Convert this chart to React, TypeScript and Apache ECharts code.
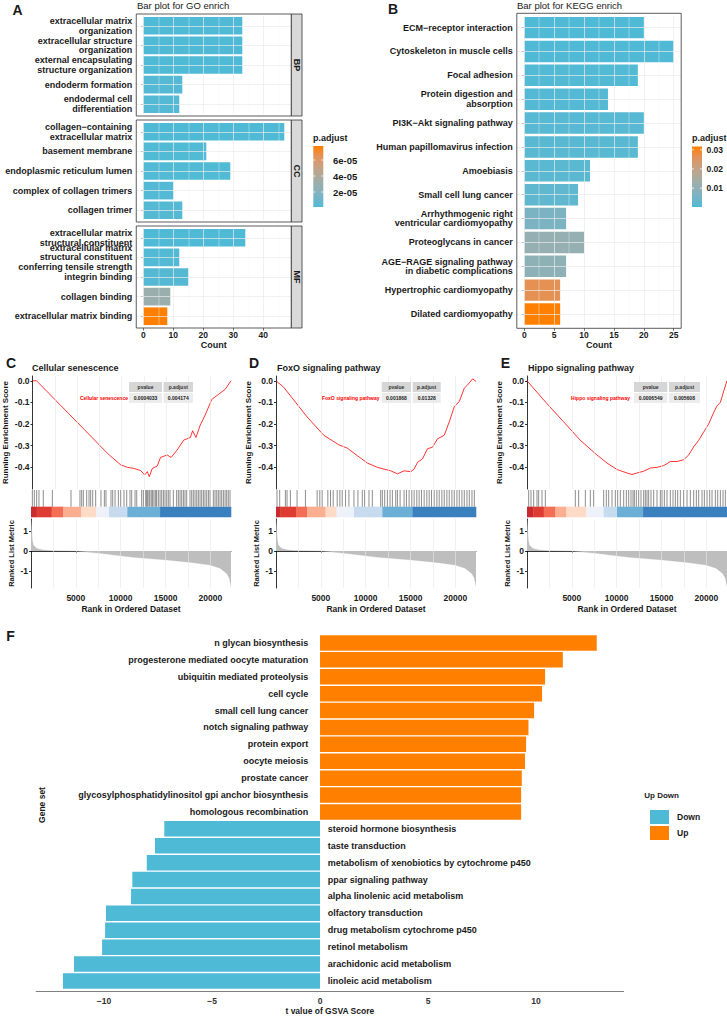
import { useEffect, useRef } from "react";
import * as echarts from "echarts";

const FONT = "'Liberation Sans', Arial, Helvetica, sans-serif";
const TXT = "#1A1A1A";
const PADJ_COLORS = ["#4FBAD6", "#78B4C6", "#93B0B4", "#ADAA9C", "#C9A080", "#E4925A", "#FF7F00"];

// A: GO enrichment, one facet per ontology
const goBPTerms = [
  "extracellular matrix\norganization",
  "extracellular structure\norganization",
  "external encapsulating\nstructure organization",
  "endoderm formation",
  "endodermal cell\ndifferentiation",
];
const goBPCount = [33, 33, 33, 13, 12];
const goBPPadj = [1.25e-6, 1.3e-6, 1.3e-6, 2.4e-6, 2.8e-6];
const goCCTerms = [
  "collagen\u2212containing\nextracellular matrix",
  "basement membrane",
  "endoplasmic reticulum lumen",
  "complex of collagen trimers",
  "collagen trimer",
];
const goCCCount = [47, 21, 29, 10, 13];
const goCCPadj = [1.25e-6, 1.8e-6, 2.0e-6, 2.6e-6, 3.0e-6];
const goMFTerms = [
  "extracellular matrix\nstructural constituent",
  "extracellular matrix\nstructural constituent\nconferring tensile strength",
  "integrin binding",
  "collagen binding",
  "extracellular matrix binding",
];
const goMFCount = [34, 12, 15, 9, 8];
const goMFPadj = [1.25e-6, 2.2e-6, 3.2e-6, 3.0e-5, 7.75e-5];
const goFacetNames = ["BP", "CC", "MF"];
const goCountBreaks = [0, 10, 20, 30, 40];
const goCountMinor = [5, 15, 25, 35, 45];
const goPadjBreaks = [2e-5, 4e-5, 6e-5];
const goPadjLabels = ["2e-05", "4e-05", "6e-05"];

// B: KEGG enrichment
const keggTerms = [
  "ECM\u2212receptor interaction",
  "Cytoskeleton in muscle cells",
  "Focal adhesion",
  "Protein digestion and\nabsorption",
  "PI3K\u2212Akt signaling pathway",
  "Human papillomavirus infection",
  "Amoebiasis",
  "Small cell lung cancer",
  "Arrhythmogenic right\nventricular cardiomyopathy",
  "Proteoglycans in cancer",
  "AGE\u2212RAGE signaling pathway\nin diabetic complications",
  "Hypertrophic cardiomyopathy",
  "Dilated cardiomyopathy",
];
const keggCount = [20, 25, 19, 14, 20, 19, 11, 9, 7, 10, 7, 6, 6];
const keggPadj = [0.0002, 0.0003, 0.0006, 0.0008, 0.0012, 0.0015, 0.0018, 0.0022, 0.0062, 0.0112, 0.0098, 0.0268, 0.0317];
const keggCountBreaks = [0, 5, 10, 15, 20, 25];
const keggCountMinor = [2.5, 7.5, 12.5, 17.5, 22.5];
const keggPadjBreaks = [0.01, 0.02, 0.03];
const keggPadjLabels = ["0.01", "0.02", "0.03"];

// C, D, E: GSEA plots
const gseaTitles = ["Cellular senescence", "FoxO signaling pathway", "Hippo signaling pathway"];
const gseaPvalues = ["0.0004033", "0.001868", "0.0006549"];
const gseaPadjust = ["0.004174", "0.01328", "0.005608"];

const esCellular: [number, number][] = [
  [0, 0], [446, 0], [2119, -0.07], [3977, -0.148], [5836, -0.226], [7322, -0.289], [8623, -0.343],
  [9924, -0.389], [10668, -0.4], [11411, -0.405], [12155, -0.415], [12601, -0.435], [12898, -0.42],
  [13121, -0.443], [13455, -0.405], [14013, -0.394], [14385, -0.354], [15128, -0.343], [15574, -0.354],
  [16243, -0.32], [16987, -0.274], [17730, -0.262], [17990, -0.231], [18362, -0.262], [18845, -0.205],
  [19403, -0.158], [20146, -0.086], [20889, -0.063], [21633, -0.04], [22300, 0],
];
const esFoxo: [number, number][] = [
  [0, 0], [858, -0.03], [3468, -0.167], [5333, -0.252], [7010, -0.296], [7943, -0.311], [9062, -0.346],
  [10181, -0.38], [11300, -0.4], [12045, -0.408], [12790, -0.416], [13536, -0.43], [14282, -0.416],
  [15028, -0.42], [15401, -0.408], [15774, -0.377], [16333, -0.361], [16892, -0.314], [17452, -0.307],
  [18011, -0.268], [18757, -0.252], [19316, -0.19], [19876, -0.12], [20435, -0.096], [20994, -0.034],
  [21367, -0.019], [21926, 0.009], [22300, -0.003],
];
const esHippo: [number, number][] = [
  [0, 0], [2230, -0.106], [4089, -0.19], [5947, -0.275], [7806, -0.343], [8921, -0.38], [10036, -0.41],
  [11151, -0.426], [11709, -0.433], [12266, -0.426], [13010, -0.418], [13753, -0.403], [14496, -0.4],
  [15240, -0.392], [15983, -0.373], [16727, -0.373], [17470, -0.365], [18027, -0.343], [18585, -0.305],
  [19143, -0.275], [19700, -0.237], [20258, -0.2], [20816, -0.146], [21188, -0.116], [21560, -0.1],
  [21932, -0.048], [22300, 0],
];

const hitsCellular = [
  150, 370, 630, 890, 1370, 2380, 4460, 5460, 5650, 5835, 6210, 6470, 6650, 6880, 7210, 7800, 8180, 8360,
  8920, 9110, 9370, 9740, 10000, 10370, 10670, 11040, 11230, 11600, 11790, 12340, 12530, 12790, 12900,
  13010, 13160, 13270, 13460, 13570, 13720, 13900, 14010, 14200, 14390, 14570, 14760, 14940, 15130, 15310,
  15500, 15870, 16240, 16430, 16620, 16800, 16990, 17170, 17360, 17730, 17920, 18100, 18290, 18480, 18660,
  18850, 19030, 19220, 19400, 19590, 19780, 19960, 20330, 20520, 20710, 20890, 21080, 21260, 21450, 21640,
  21820, 22000, 22190,
];
const hitsFoxo = [
  112, 410, 1044, 1231, 1603, 2349, 3282, 4587, 4885, 5146, 5780, 6078, 6377, 6824, 7123, 7384, 7757, 8130,
  8689, 9136, 9621, 9882, 10367, 10740, 11672, 11858, 12119, 12418, 12716, 12977, 13350, 13536, 13835,
  14282, 14543, 14841, 15140, 15401, 15699, 15960, 16221, 16519, 16818, 17079, 17340, 17638, 17936, 18197,
  18496, 18757, 19055, 19316, 19615, 19876, 20174, 20435, 20733, 20994, 21293, 21554, 21852, 22113,
];
const hitsHippo = [
  186, 446, 743, 1115, 1301, 1673, 2044, 5390, 5761, 6505, 7062, 7434, 8549, 8846, 9107, 9478, 9850, 10110,
  10408, 10779, 11077, 11337, 11597, 11820, 11969, 12192, 12452, 12712, 13010, 13195, 13381, 13567, 13827,
  14125, 14496, 14868, 15054, 15314, 15611, 15983, 16280, 16541, 16801, 17098, 17470, 17842, 18213, 18585,
  18882, 19143, 19514, 19775, 20072, 20370, 20630, 21002, 21262, 21560, 21857, 22117,
];

const bandColors = ["#C92A2E", "#DE3B33", "#F46D55", "#FCAE91", "#FDDBC7", "#EEF0FA", "#C6DBEF", "#6BAED6", "#3A80BE"];
const bandCellular = [0, 630, 2300, 3600, 5580, 7250, 8700, 10740, 14390, 22300];
const bandFoxo = [0, 500, 2275, 3470, 5520, 6750, 8690, 11860, 15210, 22300];
const bandHippo = [0, 700, 1860, 3160, 4390, 6620, 8550, 10040, 12940, 22300];

const rankedMetric: [number, number][] = [
  [0, 1.55], [150, 0.55], [260, 0.3], [630, 0.13], [1370, 0.05], [2490, 0.02], [5090, 0], [7690, -0.11],
  [11400, -0.31], [15130, -0.44], [18100, -0.57], [19960, -0.69], [21080, -0.85], [21820, -1.1],
  [22120, -1.34], [22300, -1.75],
];
const rankBreaks = [5000, 10000, 15000, 20000];
const rankGridValues = [2500, 5000, 7500, 10000, 12500, 15000, 17500, 20000];
const esBreaks = [-0.4, -0.3, -0.2, -0.1, 0];
const metricBreaks = [-1, 0, 1];

// F: GSVA t values
const gsvaTerms = [
  "n glycan biosynthesis",
  "progesterone mediated oocyte maturation",
  "ubiquitin mediated proteolysis",
  "cell cycle",
  "small cell lung cancer",
  "notch signaling pathway",
  "protein export",
  "oocyte meiosis",
  "prostate cancer",
  "glycosylphosphatidylinositol gpi anchor biosynthesis",
  "homologous recombination",
  "steroid hormone biosynthesis",
  "taste transduction",
  "metabolism of xenobiotics by cytochrome p450",
  "ppar signaling pathway",
  "alpha linolenic acid metabolism",
  "olfactory transduction",
  "drug metabolism cytochrome p450",
  "retinol metabolism",
  "arachidonic acid metabolism",
  "linoleic acid metabolism",
];
const gsvaT = [12.81, 11.24, 10.42, 10.28, 9.91, 9.65, 9.54, 9.49, 9.34, 9.31, 9.31, -7.21, -7.64, -8.02, -8.69, -8.75, -9.91, -9.95, -10.09, -11.39, -11.9];
const gsvaBreaks = [-10, -5, 0, 5, 10];

function buildOption() {
  const grid: any[] = [];
  const xAxis: any[] = [];
  const yAxis: any[] = [];
  const series: any[] = [];
  const graphic: any[] = [];
  const visualMap: any[] = [];

  const add = (g: any, x: any, y: any) => {
    const i = grid.length;
    grid.push(g);
    xAxis.push({ gridIndex: i, ...x });
    yAxis.push({ gridIndex: i, ...y });
    return i;
  };
  const text = (x: number, y: number, s: string, size: number, extra: any = {}, rotation = 0) => {
    graphic.push({
      type: "text",
      x,
      y,
      rotation,
      z: 100,
      style: {
        text: s,
        fontSize: size,
        fontFamily: FONT,
        fontWeight: "bold",
        fill: TXT,
        textAlign: "left",
        align: "left",
        textVerticalAlign: "middle",
        verticalAlign: "middle",
        ...extra,
      },
    });
  };
  const rect = (x: number, y: number, w: number, h: number, style: any) => {
    graphic.push({ type: "rect", z: 90, shape: { x, y, width: w, height: h }, style });
  };
  const gridLines = (idx: number, xs: number[], ys: number[], color: string, width: number) => {
    series.push({
      type: "line",
      xAxisIndex: idx,
      yAxisIndex: idx,
      data: [],
      z: 1,
      silent: true,
      markLine: {
        silent: true,
        symbol: ["none", "none"],
        label: { show: false },
        lineStyle: { color, width, type: "solid" },
        data: [...xs.map((v) => ({ xAxis: v })), ...ys.map((v) => ({ yAxis: v }))],
      },
    });
  };
  const tickLabel = (size: number, margin: number, values: number[], extra: any = {}) => ({
    customValues: values,
    fontSize: size,
    fontWeight: "bold",
    fontFamily: FONT,
    color: TXT,
    margin,
    formatter: (v: number) => String(v),
    ...extra,
  });
  const colorbar = (x: number, top: number, h: number, min: number, max: number, breaks: number[], labels: string[], labelX: number, size: number) => {
    rect(x, top, 10, h, {
      fill: {
        type: "linear",
        x: 0,
        y: 1,
        x2: 0,
        y2: 0,
        colorStops: PADJ_COLORS.map((c, i) => ({ offset: i / (PADJ_COLORS.length - 1), color: c })),
      },
    });
    breaks.forEach((b, i) => {
      const y = top + h - ((b - min) / (max - min)) * h;
      graphic.push({ type: "line", z: 95, shape: { x1: x, y1: y, x2: x + 2, y2: y }, style: { stroke: "#fff", lineWidth: 0.8 } });
      graphic.push({ type: "line", z: 95, shape: { x1: x + 8, y1: y, x2: x + 10, y2: y }, style: { stroke: "#fff", lineWidth: 0.8 } });
      text(labelX, y, labels[i], size);
    });
  };

  // ---------- A ----------
  text(17.5, 9.5, "A", 14, { textAlign: "center", align: "center" });
  text(137, 5.5, "Bar plot for GO enrich", 9.5, { fontWeight: "normal" });
  const goFacets = [
    { terms: goBPTerms, count: goBPCount, padj: goBPPadj },
    { terms: goCCTerms, count: goCCCount, padj: goCCPadj },
    { terms: goMFTerms, count: goMFCount, padj: goMFPadj },
  ];
  const goAll = [...goBPPadj, ...goCCPadj, ...goMFPadj];
  const goMin = Math.min(...goAll);
  const goMax = Math.max(...goAll);
  const goTops = [14, 120, 226];
  const goSeries: number[] = [];
  goFacets.forEach((f, k) => {
    const ph = 102;
    const unit = ph / 5.2;
    const last = k === goFacets.length - 1;
    const idx = add(
      { left: 136.25, top: goTops[k] + 0.1 * unit, width: 155.1, height: 5 * unit },
      {
        type: "value",
        min: -2.35,
        max: 49.35,
        offset: 0.1 * unit,
        axisLine: { show: false },
        splitLine: { show: false },
        axisTick: last
          ? { show: true, customValues: goCountBreaks, length: 2.5, lineStyle: { color: "#333", width: 0.7 } }
          : { show: false },
        axisLabel: last ? tickLabel(8.5, 2.5, goCountBreaks) : { show: false },
        name: last ? "Count" : "",
        nameLocation: "middle",
        nameGap: 12,
        nameTextStyle: { fontSize: 9, fontWeight: "bold", color: TXT, fontFamily: FONT },
      },
      {
        type: "category",
        data: f.terms,
        inverse: true,
        axisLine: { show: false },
        splitLine: { show: false },
        axisTick: { show: true, alignWithLabel: true, length: 2.5, lineStyle: { color: "#333", width: 0.7 } },
        axisLabel: { interval: 0, fontSize: 9, fontWeight: "bold", fontFamily: FONT, color: TXT, lineHeight: 9.5, margin: 4 },
      }
    );
    gridLines(idx, goCountMinor, [], "#F2F2F2", 0.4);
    gridLines(idx, goCountBreaks, f.terms.map((_, i) => i), "#EBEBEB", 0.7);
    goSeries.push(series.length);
    series.push({
      type: "bar",
      xAxisIndex: idx,
      yAxisIndex: idx,
      z: 2,
      barCategoryGap: "10%",
      encode: { x: 0, y: 1 },
      data: f.count.map((c, i) => [c, i, f.padj[i]]),
    });
    rect(136.25, goTops[k], 155.1, ph, { fill: "none", stroke: "#333", lineWidth: 0.8 });
    rect(291.35, goTops[k], 10.65, ph, { fill: "#D9D9D9", stroke: "#333", lineWidth: 0.8 });
    text(296.7, goTops[k] + ph / 2, goFacetNames[k], 9, { textAlign: "center", align: "center" }, -Math.PI / 2);
  });
  visualMap.push({
    type: "continuous",
    show: false,
    seriesIndex: goSeries,
    dimension: 2,
    min: goMin,
    max: goMax,
    inRange: { color: PADJ_COLORS },
  });
  text(313, 137.5, "p.adjust", 9);
  colorbar(313.3, 146, 61, goMin, goMax, goPadjBreaks, goPadjLabels, 333, 9.5);

  // ---------- B ----------
  text(393, 8.5, "B", 14, { textAlign: "center", align: "center" });
  text(517, 5.5, "Bar plot for KEGG enrich", 9.5, { fontWeight: "normal" });
  const bTop = 13.3;
  const bH = 315;
  const bUnit = bH / 13.2;
  const bIdx = add(
    { left: 516.8, top: bTop + 0.1 * bUnit, width: 164.4, height: 13 * bUnit },
    {
      type: "value",
      min: -1.25,
      max: 26.25,
      offset: 0.1 * bUnit,
      axisLine: { show: false },
      splitLine: { show: false },
      axisTick: { show: true, customValues: keggCountBreaks, length: 2.5, lineStyle: { color: "#333", width: 0.7 } },
      axisLabel: tickLabel(8.5, 2.5, keggCountBreaks),
      name: "Count",
      nameLocation: "middle",
      nameGap: 12,
      nameTextStyle: { fontSize: 9, fontWeight: "bold", color: TXT, fontFamily: FONT },
    },
    {
      type: "category",
      data: keggTerms,
      inverse: true,
      axisLine: { show: false },
      splitLine: { show: false },
      axisTick: { show: true, alignWithLabel: true, length: 2.5, lineStyle: { color: "#333", width: 0.7 } },
      axisLabel: { interval: 0, fontSize: 9, fontWeight: "bold", fontFamily: FONT, color: TXT, lineHeight: 9.5, margin: 4 },
    }
  );
  gridLines(bIdx, keggCountMinor, [], "#F2F2F2", 0.4);
  gridLines(bIdx, keggCountBreaks, keggTerms.map((_, i) => i), "#EBEBEB", 0.7);
  const keggSeries = series.length;
  series.push({
    type: "bar",
    xAxisIndex: bIdx,
    yAxisIndex: bIdx,
    z: 2,
    barCategoryGap: "10%",
    encode: { x: 0, y: 1 },
    data: keggCount.map((c, i) => [c, i, keggPadj[i]]),
  });
  rect(516.8, bTop, 164.4, bH, { fill: "none", stroke: "#333", lineWidth: 0.8 });
  const kMin = Math.min(...keggPadj);
  const kMax = Math.max(...keggPadj);
  visualMap.push({
    type: "continuous",
    show: false,
    seriesIndex: [keggSeries],
    dimension: 2,
    min: kMin,
    max: kMax,
    inRange: { color: PADJ_COLORS },
  });
  text(692, 138, "p.adjust", 9);
  colorbar(692, 146.5, 60.5, kMin, kMax, keggPadjBreaks, keggPadjLabels, 706.5, 8.5);

  // ---------- C, D, E ----------
  const gsea = [
    { es: esCellular, hits: hitsCellular, band: bandCellular, left: 31, letter: "C", lx: 11, table: [129, 162, 163.5, 193], lab: 128 },
    { es: esFoxo, hits: hitsFoxo, band: bandFoxo, left: 276, letter: "D", lx: 254, table: [381.7, 411, 412.7, 440.7], lab: 379.5 },
    { es: esHippo, hits: hitsHippo, band: bandHippo, left: 527, letter: "E", lx: 505.5, table: [634, 667.3, 669, 700], lab: 630 },
  ];
  gsea.forEach((g, k) => {
    const w = 200;
    text(g.lx, 363.3, g.letter, 14, { textAlign: "center", align: "center" });
    text(g.left + 1, 368.3, gseaTitles[k], 9);

    const axisLineStyle = { color: "#000", width: 0.8 };
    const top = add(
      { left: g.left, top: 376, width: w, height: 113 },
      { type: "value", min: 0, max: 22300, show: false },
      {
        type: "value",
        min: -0.5,
        max: 0.022,
        axisLine: { show: true, lineStyle: axisLineStyle },
        axisTick: { show: true, customValues: esBreaks, length: 2, lineStyle: axisLineStyle },
        axisLabel: tickLabel(8.5, 3, esBreaks, { formatter: (v: number) => v.toFixed(1) }),
        splitLine: { show: false },
        name: "Running Enrichment Score",
        nameLocation: "middle",
        nameGap: 23.5,
        nameTextStyle: { fontSize: 8, fontWeight: "bold", color: TXT, fontFamily: FONT },
      }
    );
    gridLines(top, rankGridValues, [], "#E8E8E8", 0.6);
    series.push({
      type: "line",
      xAxisIndex: top,
      yAxisIndex: top,
      z: 3,
      symbol: "none",
      silent: true,
      lineStyle: { color: "#FF0000", width: 0.8 },
      data: g.es,
    });

    const hit = add(
      { left: g.left, top: 490, width: w, height: 27.3 },
      { type: "value", min: 0, max: 22300, show: false },
      { type: "value", min: 0, max: 1, show: false }
    );
    series.push({
      type: "custom",
      xAxisIndex: hit,
      yAxisIndex: hit,
      silent: true,
      z: 3,
      encode: { x: [0, 1] },
      data: g.band.slice(0, -1).map((s, i) => [s, g.band[i + 1], i]),
      renderItem: (_p: any, api: any) => {
        const a = api.coord([api.value(0), 0.39]);
        const b = api.coord([api.value(1), 0]);
        return {
          type: "rect",
          shape: { x: a[0], y: a[1], width: b[0] - a[0] + 0.3, height: b[1] - a[1] },
          style: { fill: bandColors[api.value(2)] },
        };
      },
    });
    series.push({
      type: "custom",
      xAxisIndex: hit,
      yAxisIndex: hit,
      silent: true,
      z: 3,
      encode: { x: 0, y: 1 },
      data: g.hits.map((r) => [r, 1]),
      renderItem: (_p: any, api: any) => {
        const a = api.coord([api.value(0), 1]);
        const b = api.coord([api.value(0), 0.39]);
        return {
          type: "line",
          shape: { x1: a[0], y1: a[1], x2: b[0], y2: b[1] },
          style: { stroke: "#000", lineWidth: 0.6, opacity: 0.75 },
        };
      },
    });

    const rk = add(
      { left: g.left, top: 519, width: w, height: 69 },
      {
        type: "value",
        min: 0,
        max: 22300,
        axisLine: { show: true, lineStyle: axisLineStyle },
        axisTick: { show: true, customValues: rankBreaks, length: 2, lineStyle: axisLineStyle },
        axisLabel: tickLabel(8.5, 5, rankBreaks),
        splitLine: { show: false },
        name: "Rank in Ordered Dataset",
        nameLocation: "middle",
        nameGap: 16.5,
        nameTextStyle: { fontSize: 8.5, fontWeight: "bold", color: TXT, fontFamily: FONT },
      },
      {
        type: "value",
        min: -1.82,
        max: 1.58,
        axisLine: { show: true, lineStyle: axisLineStyle },
        axisTick: { show: true, customValues: metricBreaks, length: 2, lineStyle: axisLineStyle },
        axisLabel: tickLabel(8.5, 3, metricBreaks),
        splitLine: { show: false },
        name: "Ranked List Metric",
        nameLocation: "middle",
        nameGap: 16,
        nameTextStyle: { fontSize: 7.5, fontWeight: "bold", color: TXT, fontFamily: FONT },
      }
    );
    gridLines(rk, rankGridValues, [], "#E8E8E8", 0.6);
    series.push({
      type: "line",
      xAxisIndex: rk,
      yAxisIndex: rk,
      z: 2,
      symbol: "none",
      silent: true,
      lineStyle: { color: "#BEBEBE", width: 0.3 },
      areaStyle: { color: "#BEBEBE", opacity: 1 },
      data: rankedMetric,
    });

    // p-value table
    const [p0, p1, q0, q1] = g.table;
    rect(p0, 382, p1 - p0, 10, { fill: "#D6D6D6" });
    rect(q0, 382, q1 - q0, 10, { fill: "#D6D6D6" });
    rect(p0, 393, p1 - p0, 10, { fill: "#ECECEC" });
    rect(q0, 393, q1 - q0, 10, { fill: "#ECECEC" });
    const mid = { textAlign: "center", align: "center", fill: "#333" };
    text((p0 + p1) / 2, 387, "pvalue", 5, mid);
    text((q0 + q1) / 2, 387, "p.adjust", 5, mid);
    text((p0 + p1) / 2, 398, gseaPvalues[k], 5, { ...mid, fill: TXT });
    text((q0 + q1) / 2, 398, gseaPadjust[k], 5, { ...mid, fill: TXT });
    text(g.lab, 398, gseaTitles[k], 5, { textAlign: "right", align: "right", fill: "#FF0000" });
  });

  // ---------- F ----------
  text(10.5, 635.5, "F", 14, { textAlign: "center", align: "center" });
  const fIdx = add(
    { left: 36.2, top: 634.5, width: 587.3, height: 356.3 },
    {
      type: "value",
      min: -13.14,
      max: 14.05,
      offset: 1.7,
      axisLine: { show: true, lineStyle: { color: "#808080", width: 1.2 } },
      axisTick: { show: false },
      axisLabel: tickLabel(8.5, 5, gsvaBreaks, { color: "#333", formatter: (v: number) => String(v).replace("-", "\u2212") }),
      splitLine: { show: false },
      name: "t value of GSVA Score",
      nameLocation: "middle",
      nameGap: 14.5,
      nameTextStyle: { fontSize: 8.5, fontWeight: "bold", color: TXT, fontFamily: FONT },
    },
    {
      type: "category",
      data: gsvaTerms,
      inverse: true,
      axisLine: { show: false },
      axisTick: { show: false },
      axisLabel: { show: false },
      splitLine: { show: false },
    }
  );
  const fLabel = (position: string, distance: number) => ({
    show: true,
    position,
    distance,
    fontSize: 9,
    fontWeight: "bold",
    fontFamily: FONT,
    color: TXT,
    formatter: (p: any) => gsvaTerms[p.dataIndex],
  });
  series.push({
    name: "Down",
    type: "bar",
    xAxisIndex: fIdx,
    yAxisIndex: fIdx,
    barGap: "-100%",
    barCategoryGap: "8%",
    itemStyle: { color: "#4FBAD6" },
    label: fLabel("right", 7.7),
    data: gsvaT.map((v) => (v < 0 ? v : "-")),
  });
  series.push({
    name: "Up",
    type: "bar",
    xAxisIndex: fIdx,
    yAxisIndex: fIdx,
    barGap: "-100%",
    barCategoryGap: "8%",
    itemStyle: { color: "#FF7F00" },
    label: fLabel("left", 11.7),
    data: gsvaT.map((v) => (v > 0 ? v : "-")),
  });
  text(41.7, 805, "Gene set", 8.5, { textAlign: "center", align: "center" }, Math.PI / 2);
  text(644.3, 795, "Up Down", 8);

  return {
    animation: false,
    backgroundColor: "#fff",
    textStyle: { fontFamily: FONT },
    grid,
    xAxis,
    yAxis,
    series,
    visualMap,
    legend: {
      data: ["Down", "Up"],
      orient: "vertical",
      left: 645,
      top: 805,
      itemWidth: 19,
      itemHeight: 14,
      itemGap: 2,
      icon: "rect",
      selectedMode: false,
      textStyle: { fontSize: 8.5, fontWeight: "bold", color: TXT, fontFamily: FONT, padding: [0, 0, 0, 3] },
    },
    graphic: { elements: graphic },
  };
}

export default function App() {
  const chartRef = useRef<HTMLDivElement | null>(null);

  useEffect(() => {
    if (!chartRef.current) {
      return;
    }
    const chart = echarts.init(chartRef.current, undefined, { renderer: "svg" });
    chart.setOption(buildOption() as any);
    return () => {
      chart.dispose();
    };
  }, []);

  return <div ref={chartRef} style={{ position: "absolute", left: 0, top: 0, width: 727, height: 1016 }} />;
}
